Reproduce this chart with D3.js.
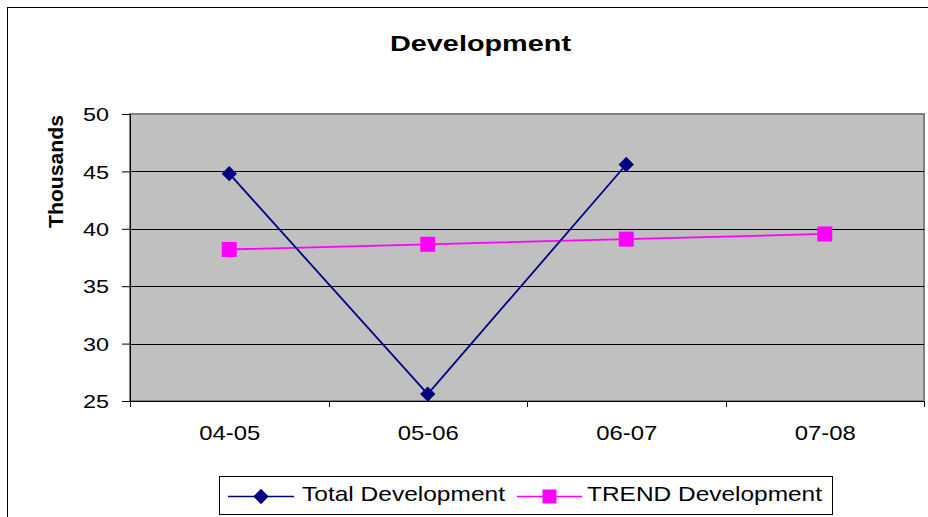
<!DOCTYPE html>
<html>
<head>
<meta charset="utf-8">
<script src="https://cdn.jsdelivr.net/npm/d3@7"></script>
<style>
  body { margin: 0; background: #fff; }
  text { font-family: "Liberation Sans", Arial, sans-serif; }
</style>
</head>
<body>
<svg id="chart" width="928" height="517"></svg>
<script>
// data
const years = ["04-05", "05-06", "06-07", "07-08"];
const totalDev = [44.8, 25.6, 45.6, null];
const trendDev = [38.2, 38.65, 39.1, 39.55];
const yTicks = [25, 30, 35, 40, 45, 50];

const svg = d3.select("#chart");

// outer chart border
svg.append("rect")
  .attr("x", 7.5).attr("y", 7.5)
  .attr("width", 940).attr("height", 540)
  .attr("fill", "#fff").attr("stroke", "#000").attr("stroke-width", 1);

const plot = { left: 130, top: 114, right: 924, bottom: 401 };

const x = d3.scaleBand().domain(years).range([plot.left, plot.right]);
const y = d3.scaleLinear().domain([25, 50]).range([plot.bottom, plot.top]);

// plot background
svg.append("rect")
  .attr("x", plot.left).attr("y", plot.top)
  .attr("width", plot.right - plot.left).attr("height", plot.bottom - plot.top)
  .attr("fill", "#c0c0c0").attr("stroke", "#808080").attr("stroke-width", 2);

// gridlines
svg.append("g").selectAll("line")
  .data(yTicks.filter(d => d > 25 && d < 50))
  .join("line")
  .attr("x1", plot.left).attr("x2", plot.right)
  .attr("y1", d => Math.round(y(d)) + 0.5).attr("y2", d => Math.round(y(d)) + 0.5)
  .attr("stroke", "#000").attr("stroke-width", 1);

// y axis
const yAxis = svg.append("g")
  .attr("transform", `translate(${plot.left},0)`)
  .call(d3.axisLeft(y).tickValues(yTicks).tickSize(8).tickPadding(13));
yAxis.selectAll("text")
  .style("font-size", "19px").attr("fill", "#000")
  .attr("dy", "0.35em")
  .attr("textLength", 26).attr("lengthAdjust", "spacingAndGlyphs");
yAxis.selectAll("line, path").attr("stroke", "#000");

// x axis
const tickPos = d3.range(years.length + 1).map(i => plot.left + i * x.step());
const xg = svg.append("g");
xg.append("line")
  .attr("x1", plot.left).attr("x2", plot.right)
  .attr("y1", plot.bottom + 0.5).attr("y2", plot.bottom + 0.5)
  .attr("stroke", "#000");
xg.selectAll("line.tick").data(tickPos).join("line")
  .attr("class", "tick")
  .attr("x1", d => Math.round(d) + 0.5).attr("x2", d => Math.round(d) + 0.5)
  .attr("y1", plot.bottom).attr("y2", plot.bottom + 6)
  .attr("stroke", "#000");
xg.selectAll("text").data(years).join("text")
  .attr("x", d => x(d) + x.bandwidth() / 2 - 30)
  .attr("y", 440)
  .style("font-size", "21px")
  .attr("textLength", 61).attr("lengthAdjust", "spacingAndGlyphs")
  .text(d => d);

// title and axis label
svg.append("text")
  .attr("x", 390).attr("y", 51)
  .style("font-size", "22px").style("font-weight", "bold")
  .attr("textLength", 181).attr("lengthAdjust", "spacingAndGlyphs")
  .text("Development");

svg.append("text")
  .attr("transform", "translate(63,228) rotate(-90)")
  .style("font-size", "20px").style("font-weight", "bold")
  .attr("textLength", 113).attr("lengthAdjust", "spacingAndGlyphs")
  .text("Thousands");

const cx = d => x(d) + x.bandwidth() / 2;

// series lines
const totalPts = years.map((d, i) => ({ k: d, v: totalDev[i] })).filter(d => d.v != null);
const trendPts = years.map((d, i) => ({ k: d, v: trendDev[i] }));
const line = d3.line().x(d => cx(d.k)).y(d => y(d.v));

svg.append("path").datum(trendPts)
  .attr("d", line).attr("fill", "none")
  .attr("stroke", "#ff00ff").attr("stroke-width", 1.8);
svg.append("path").datum(totalPts)
  .attr("d", line).attr("fill", "none")
  .attr("stroke", "#000080").attr("stroke-width", 1.8);

const diamond = d3.symbol().type(d3.symbolDiamond2).size(150);

svg.append("g").selectAll("rect").data(trendPts).join("rect")
  .attr("x", d => cx(d.k) - 7.5).attr("y", d => y(d.v) - 7.5)
  .attr("width", 15).attr("height", 15)
  .attr("fill", "#ff00ff");

svg.append("g").selectAll("path").data(totalPts).join("path")
  .attr("d", diamond)
  .attr("transform", d => `translate(${cx(d.k)},${y(d.v)})`)
  .attr("fill", "#000080");

// legend
const lg = svg.append("g");
lg.append("rect")
  .attr("x", 219.5).attr("y", 476.5).attr("width", 613).attr("height", 38)
  .attr("fill", "#fff").attr("stroke", "#000");

const legendItems = [
  { name: "Total Development", color: "#000080", x0: 228, x1: 294, tx: 302, tw: 203, shape: "diamond" },
  { name: "TREND Development", color: "#ff00ff", x0: 517, x1: 582, tx: 587, tw: 235, shape: "square" }
];
const ly = 496.5;
legendItems.forEach(it => {
  lg.append("line")
    .attr("x1", it.x0).attr("x2", it.x1).attr("y1", ly).attr("y2", ly)
    .attr("stroke", it.color).attr("stroke-width", 1.5);
  const mx = (it.x0 + it.x1) / 2;
  if (it.shape === "diamond") {
    lg.append("path").attr("d", diamond)
      .attr("transform", `translate(${mx},${ly})`).attr("fill", it.color);
  } else {
    lg.append("rect").attr("x", mx - 7).attr("y", ly - 7)
      .attr("width", 14).attr("height", 14).attr("fill", it.color);
  }
  lg.append("text")
    .attr("x", it.tx).attr("y", 501)
    .style("font-size", "21px")
    .attr("textLength", it.tw).attr("lengthAdjust", "spacingAndGlyphs")
    .text(it.name);
});
</script>
</body>
</html>
